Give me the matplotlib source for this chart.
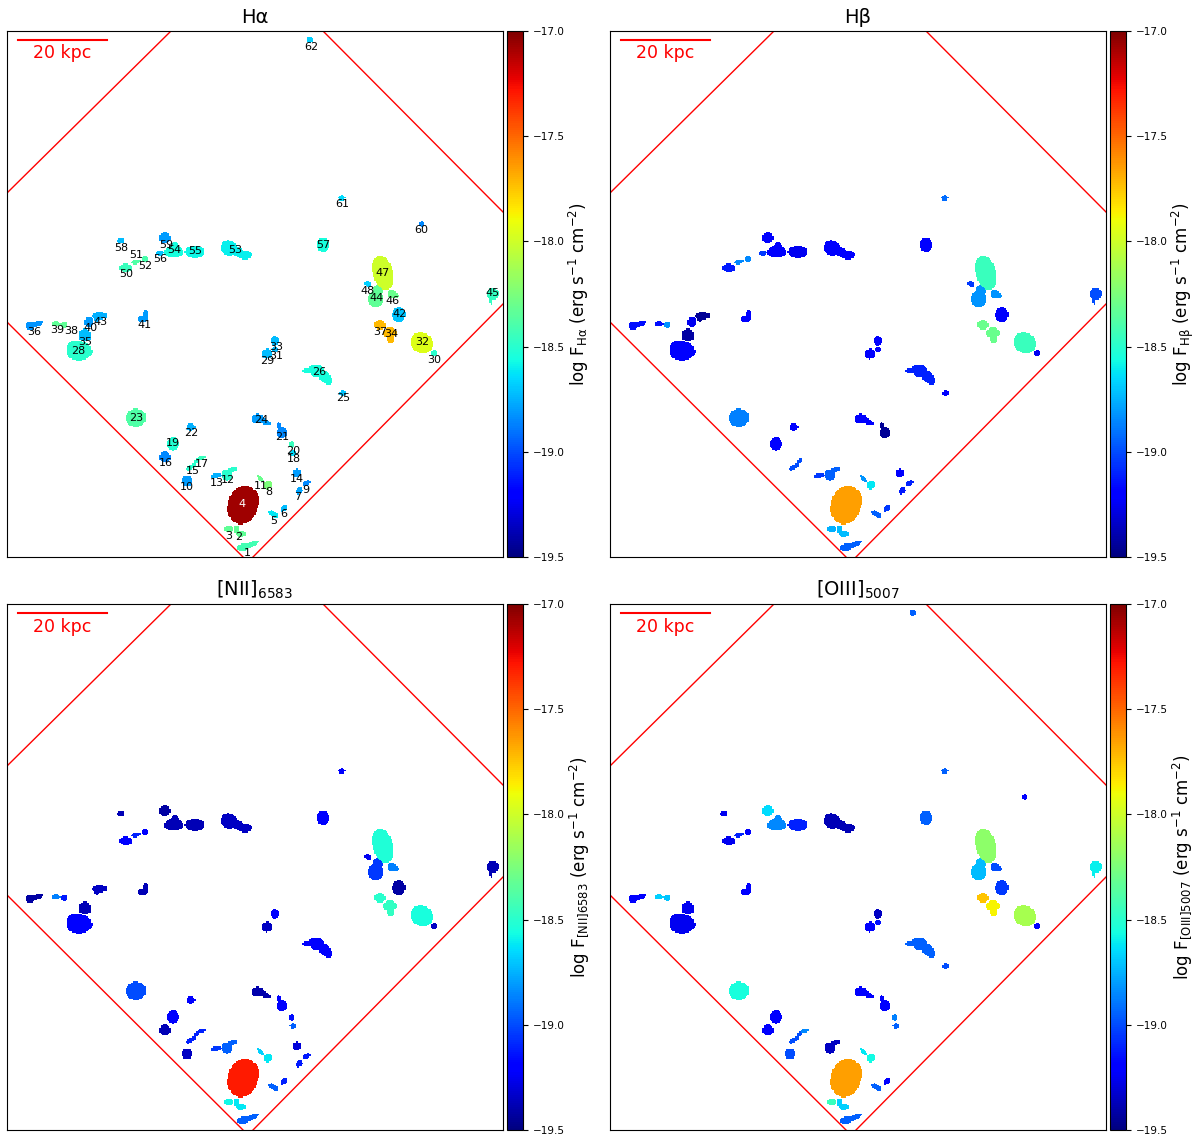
import numpy as np
import matplotlib
matplotlib.use('Agg')
import matplotlib.pyplot as plt

nan = np.nan

# region catalogue, map coordinates are in the frame of the Halpha panel
region_ids = [1, 2, 3, 4, 5, 6, 7, 8, 9, 10, 11, 12, 13, 14, 15, 16, 17, 18, 19, 20,
              21, 22, 23, 24, 25, 26, 28, 29, 30, 31, 32, 33, 34, 35, 36, 37, 38, 39, 40, 41,
              42, 43, 44, 45, 46, 47, 48, 50, 51, 52, 53, 54, 55, 56, 57, 58, 59, 60, 61, 62]
ha_flux = [-18.42, -18.33, -18.33, -17.07, -18.62, -18.72, -18.78, -18.25, -18.85, -18.8,
           -18.3, -18.5, -18.75, -18.8, -18.5, -18.85, -18.45, -18.65, -18.52, -18.45,
           -18.85, -18.75, -18.38, -18.8, -18.7, -18.55, -18.5, -18.72, -18.5, -18.72,
           -17.95, -18.72, -17.72, -18.72, -18.82, -17.72, -18.33, -18.33, -18.8, -18.8,
           -18.7, -18.75, -18.33, -18.47, -18.3, -18.0, -18.67, -18.45, -18.4, -18.38,
           -18.6, -18.55, -18.58, -18.7, -18.55, -18.72, -18.8, -18.85, -18.65, -18.67]
hb_flux = [-18.95, -18.72, -18.75, -17.65, -18.95, -19.05, -19.12, -18.62, -19.1, nan,
           -18.82, -18.95, -19.05, -19.22, -19.0, nan, nan, nan, -19.18, nan,
           -19.45, -19.22, -18.87, -19.22, -19.2, -19.1, -19.2, -19.22, -19.25, -19.22,
           -18.45, -19.22, -18.3, -19.42, -19.15, -18.3, -18.82, -19.15, -19.25, -19.2,
           -19.22, -19.45, -18.82, -19.0, -18.82, -18.45, -19.05, -19.12, -18.85, -18.85,
           -19.22, -19.22, -19.25, -19.05, -19.22, nan, -19.22, nan, -18.92, nan]
nii_flux = [-18.95, -18.62, -18.58, -17.3, -18.95, -19.1, -19.12, -18.62, -19.12, -19.35,
            -18.67, -18.95, -19.05, -19.3, -19.1, -19.38, -19.1, -18.95, -19.22, -19.15,
            -19.22, -19.2, -19.0, -19.4, nan, -19.22, -19.2, -19.35, -19.35, nan,
            -18.55, -19.2, -18.47, -19.38, -19.42, -18.5, -19.12, -18.87, nan, -19.38,
            -19.42, -19.35, -19.05, -19.38, -18.87, -18.53, -19.25, -19.18, -19.2, -19.1,
            -19.35, -19.38, -19.38, nan, -19.2, -19.38, -19.42, nan, -19.22, nan]
oiii_flux = [-18.95, -18.67, -18.45, -17.65, -18.95, -19.2, nan, -18.57, nan, -19.0,
             -18.62, -19.35, nan, nan, -19.0, -19.22, -18.85, -18.95, -19.18, -18.87,
             -19.22, nan, -18.55, -19.22, -19.0, -18.95, -19.25, -19.22, -19.22, -19.15,
             -18.12, -19.35, -17.87, -19.25, -19.2, -17.75, -18.7, -18.67, nan, -19.2,
             -19.05, nan, -18.72, -18.6, -19.0, -18.2, nan, -19.25, -19.22, -19.1,
             -19.38, -18.85, -19.1, nan, -18.95, -19.25, -18.65, -19.2, -18.95, -18.95]
label_x = [247, 239, 229, 242, 274, 284, 298, 269, 306, 187, 261, 228, 217, 297, 193, 166, 202, 294, 173, 293,
           282, 191, 136, 261, 343, 319, 78, 267, 434, 276, 422, 276, 391, 85, 34, 380, 71, 57, 90, 144,
           400, 100, 377, 493, 393, 383, 368, 126, 136, 145, 235, 174, 195, 160, 323, 121, 166, 421, 342, 311]
label_y = [553, 537, 536, 504, 521, 514, 497, 492, 490, 487, 486, 480, 483, 479, 471, 463, 464, 459, 443, 451,
           437, 433, 418, 420, 398, 372, 351, 361, 360, 356, 342, 347, 334, 342, 332, 332, 331, 330, 328, 325,
           314, 322, 298, 293, 301, 273, 291, 274, 255, 266, 250, 250, 251, 259, 245, 248, 245, 230, 204, 47]

# shape of each region: (x, y, half width, half height, angle)
region_lobes = {
    1: [(244, 547, 7, 3, -10), (253, 544, 6, 1.8, -25)],
    2: [(237, 530, 2.5, 4, 0), (241, 534, 4.5, 2.5, 0)],
    3: [(229, 529, 4, 3, 0)],
    4: [(243, 505, 14.5, 19, 15), (247, 500, 12, 12, 0), (239, 510, 11, 11, 0)],
    5: [(272, 513, 3, 2, 20), (276, 516, 2, 2.5, 0)],
    6: [(284, 508, 2, 4, 40)],
    7: [(299, 491, 3.5, 2.5, -35)],
    8: [(268, 485, 3.5, 4, 0)],
    9: [(307, 483, 3.5, 2, -30)],
    10: [(187, 481, 4.5, 5, 0)],
    11: [(261, 479, 4.5, 1.2, 45)],
    12: [(227, 475, 5, 5, 0), (232, 470, 5, 1.8, -15)],
    13: [(216, 476, 5, 2, -10)],
    14: [(297, 473, 3.5, 3.5, 0)],
    15: [(191, 467, 5, 1.8, -30), (197, 461, 3, 1.5, -55)],
    16: [(165, 457, 5, 5, 0)],
    17: [(202, 458, 3.5, 1.6, -10)],
    18: [(293, 453, 2.5, 2.2, 0)],
    19: [(173, 444, 5.5, 6, 0)],
    20: [(292, 445, 2.2, 3, 0)],
    21: [(282, 433, 5, 5, 0), (279, 426, 1.5, 3, 0)],
    22: [(191, 427, 4, 3, 0)],
    23: [(136, 418, 9.5, 8.5, 0)],
    24: [(258, 419, 6, 4.5, 0), (265, 422, 5, 2.2, 20)],
    25: [(343, 393, 2.5, 2.5, 0)],
    26: [(317, 371, 8, 6, 20), (325, 377, 5, 5, 0), (328, 381, 4, 3, 0), (308, 371, 5, 2, 0)],
    28: [(79, 351, 12, 9, 0), (74, 350, 7, 9, 0), (88, 352, 5, 3, 0)],
    29: [(267, 354, 5, 4.5, -20)],
    30: [(434, 353, 2.8, 1.6, 0), (434, 353, 1.4, 2.8, 0)],
    31: [(275, 350, 2.4, 2, 0)],
    32: [(422, 343, 11, 9.5, 25)],
    33: [(275, 341, 3.8, 4, 0)],
    34: [(390, 333, 6, 5, 0), (391, 339, 3.5, 4, 0)],
    35: [(85, 335, 5.5, 5.5, 0), (85, 337, 5.5, 3.5, 0)],
    36: [(30, 326, 4, 3.5, 0), (37, 324, 6, 2, -15)],
    37: [(380, 325, 5, 4.5, 0)],
    38: [(64, 325, 3, 2.5, 0)],
    39: [(56, 324, 3.8, 2, 0)],
    40: [(89, 322, 4, 4.5, 0)],
    41: [(143, 319, 4, 3, 0), (146, 315, 2.2, 4.5, 0)],
    42: [(399, 315, 6, 7, 0)],
    43: [(100, 316, 7, 3, 0), (97, 319, 2, 2.5, 0)],
    44: [(376, 299, 7, 8, 0), (378, 291, 4.5, 6, 0)],
    45: [(493, 294, 6, 5, 0), (491, 298, 1, 6, 0)],
    46: [(392, 294, 3.5, 4, 0), (395, 296, 4, 2, 0)],
    47: [(383, 273, 9.5, 17, -15)],
    48: [(368, 284, 3, 2, 30)],
    50: [(126, 268, 6, 3.5, 0)],
    51: [(145, 259, 3, 2.5, 0)],
    52: [(136, 262, 4.2, 1.8, -8)],
    53: [(229, 248, 8, 7, 15), (238, 252, 7, 4, 20), (245, 255, 6, 4, 0)],
    54: [(174, 252, 9, 5, 0), (175, 250, 5, 7, 0)],
    55: [(195, 252, 9.5, 5.5, 0)],
    56: [(160, 253, 3.5, 2, 0)],
    57: [(323, 245, 6, 6.5, 0)],
    58: [(121, 241, 3.5, 2.5, 0)],
    59: [(165, 238, 5, 4.8, 0)],
    60: [(422, 224, 1.5, 3, 0)],
    61: [(342, 198, 2.7, 2.5, 0)],
    62: [(310, 40, 2.7, 2.5, 0)],
}

titles = ['Hα', 'Hβ', r'[NII]$_{6583}$', r'[OIII]$_{5007}$']
cbar_labels = [r'log F$_{\mathrm{Hα}}$ (erg s$^{-1}$ cm$^{-2}$)',
               r'log F$_{\mathrm{Hβ}}$ (erg s$^{-1}$ cm$^{-2}$)',
               r'log F$_{\mathrm{[NII]6583}}$ (erg s$^{-1}$ cm$^{-2}$)',
               r'log F$_{\mathrm{[OIII]5007}}$ (erg s$^{-1}$ cm$^{-2}$)']
flux_maps = [ha_flux, hb_flux, nii_flux, oiii_flux]
cbar_ticks = [-19.5, -19.0, -18.5, -18.0, -17.5, -17.0]
fov_lines = [((7, 193), (171, 31)), ((323, 31), (503, 212)),
             ((7, 322), (243, 557)), ((503, 304), (253, 557))]

W, H = 1200, 1144
X0, X1, Y0, Y1 = 7, 503, 31, 557
PITCH = 1.25
GROW = 0.6


def build_map(values):
    xs = np.arange(X0, X1, PITCH) + PITCH / 2
    ys = np.arange(Y0, Y1, PITCH) + PITCH / 2
    xx, yy = np.meshgrid(xs, ys)
    img = np.full(xx.shape, np.nan)
    for rid, val in zip(region_ids, values):
        if np.isnan(val):
            continue
        for x, y, a, b, ang in region_lobes[rid]:
            t = np.radians(ang)
            dx = (xx - x) * np.cos(t) + (yy - y) * np.sin(t)
            dy = -(xx - x) * np.sin(t) + (yy - y) * np.cos(t)
            img[(dx / (a + GROW)) ** 2 + (dy / (b + GROW)) ** 2 <= 1] = val
    return img


def px_axes(fig, x0, y0, x1, y1):
    return fig.add_axes([x0 / W, 1 - y1 / H, (x1 - x0) / W, (y1 - y0) / H])


fig = plt.figure(figsize=(12, 11.44), dpi=100)
for i in range(4):
    off_x = 603 * (i % 2)
    off_y = 573 * (i // 2)
    ax = px_axes(fig, X0 + off_x, Y0 + off_y, X1 + off_x, Y1 + off_y)
    im = ax.imshow(build_map(flux_maps[i]), cmap='jet', vmin=-19.5, vmax=-17.0,
                   extent=[X0, X1, Y1, Y0], interpolation='nearest', aspect='auto')
    for p0, p1 in fov_lines:
        ax.plot([p0[0], p1[0]], [p0[1], p1[1]], color='red', lw=1.0)
    ax.plot([18, 107], [40, 40], color='red', lw=1.5)
    ax.text(62, 53.5, '20 kpc', color='red', fontsize=12.5, ha='center', va='center')
    if i == 0:
        for rid, lx, ly in zip(region_ids, label_x, label_y):
            col = 'white' if rid == 4 else 'black'
            ax.text(lx, ly, str(rid), color=col, fontsize=8, ha='center', va='center')
    ax.set_xlim(X0, X1)
    ax.set_ylim(Y1, Y0)
    ax.set_xticks([])
    ax.set_yticks([])
    ax.set_title(titles[i], fontsize=14)

    cax = px_axes(fig, 507 + off_x, Y0 + off_y, 523 + off_x, Y1 + off_y)
    cb = fig.colorbar(im, cax=cax)
    cb.set_ticks(cbar_ticks)
    cb.ax.tick_params(labelsize=7.5)
    cb.set_label(cbar_labels[i], fontsize=12, labelpad=1.5)

fig.savefig('out.png', dpi=100)
